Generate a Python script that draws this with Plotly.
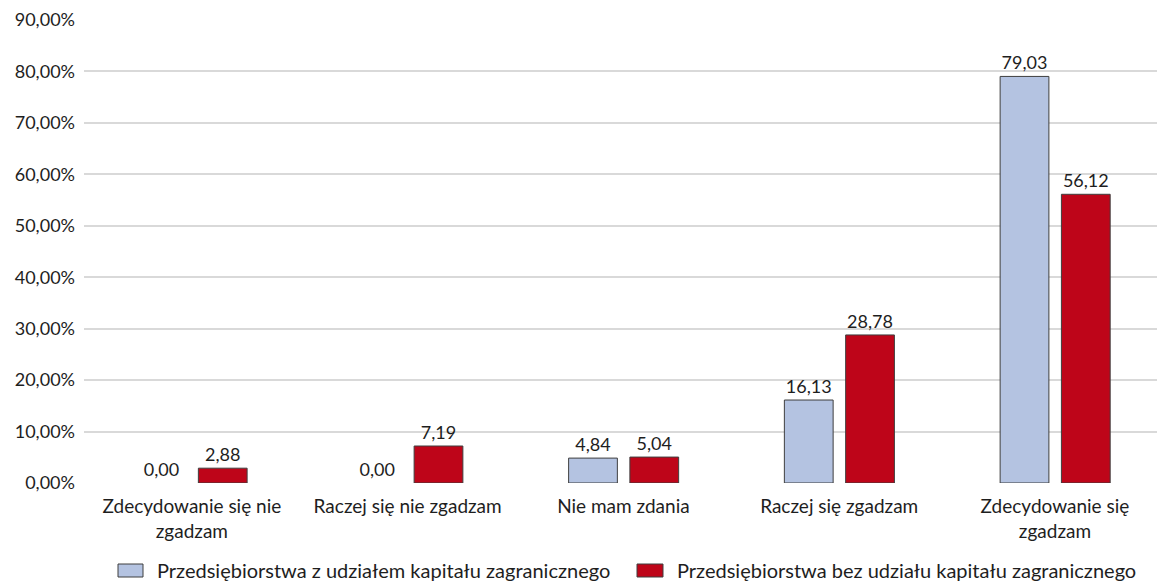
import plotly.graph_objects as go

# Survey answers (x categories) and shares of firms in each group, in percent
categories = [
    "Zdecydowanie się nie<br>zgadzam",
    "Raczej się nie zgadzam",
    "Nie mam zdania",
    "Raczej się zgadzam",
    "Zdecydowanie się<br>zgadzam",
]
series_names = [
    "Przedsiębiorstwa z udziałem kapitału zagranicznego",
    "Przedsiębiorstwa bez udziału kapitału zagranicznego",
]
foreign_capital = [0.00, 0.00, 4.84, 16.13, 79.03]
domestic_capital = [2.88, 7.19, 5.04, 28.78, 56.12]
y_ticks = [0, 10, 20, 30, 40, 50, 60, 70, 80, 90]
y_tick_labels = ["0,00%", "10,00%", "20,00%", "30,00%", "40,00%",
                 "50,00%", "60,00%", "70,00%", "80,00%", "90,00%"]

BLUE = "#B4C3E1"
RED = "#BE0519"
OUTLINE = "#3F3F3F"
TEXT = "#1E1E1E"
FONT = "Lato"

W, H = 1157, 581
PLOT_L, PLOT_R, PLOT_T, PLOT_B = 84, 1157, 20, 483

fig = go.Figure()
for name, vals, color, offset in [
    (series_names[0], foreign_capital, BLUE, -0.254),
    (series_names[1], domestic_capital, RED, 0.030),
]:
    fig.add_trace(go.Bar(
        x=list(range(len(categories))),
        y=vals,
        name=name,
        width=0.226,
        offset=offset,
        # empty bars get no outline
        marker=dict(color=color,
                    line=dict(color=OUTLINE, width=[1 if v > 0 else 0 for v in vals])),
        texttemplate="%{y:.2f}",
        textposition="outside",
        textfont=dict(family=FONT, size=18, color=TEXT),
        cliponaxis=False,
        showlegend=False,
    ))

fig.update_layout(
    width=W,
    height=H,
    margin=dict(l=PLOT_L, r=W - PLOT_R, t=PLOT_T, b=H - PLOT_B),
    paper_bgcolor="white",
    plot_bgcolor="white",
    separators=",.",
    font=dict(family=FONT, size=18, color=TEXT),
    barmode="overlay",
    xaxis=dict(
        range=[-0.5, 4.473],
        tickmode="array",
        tickvals=list(range(len(categories))),
        ticktext=categories,
        showgrid=False,
        zeroline=False,
        showline=False,
        ticks="",
        ticklabelstandoff=10,
        tickfont=dict(family=FONT, size=19, color=TEXT),
    ),
    yaxis=dict(
        range=[0, 90],
        tickmode="array",
        tickvals=y_ticks,
        ticktext=y_tick_labels,
        showgrid=True,
        gridcolor="#D9D9D9",
        gridwidth=1.5,
        zeroline=False,
        showline=False,
        ticks="",
        ticklabelstandoff=8,
        tickfont=dict(family=FONT, size=18, color=TEXT),
    ),
)


# Legend drawn as boxes and labels under the plot
def px_x(px):
    return (px - PLOT_L) / (PLOT_R - PLOT_L)


def px_y(py):
    return (PLOT_B - py) / (PLOT_B - PLOT_T)


legend_items = [
    (118, 143, 155, BLUE, series_names[0]),
    (637, 663, 675, RED, series_names[1]),
]
for bx0, bx1, tx, color, label in legend_items:
    fig.add_shape(
        type="rect", xref="paper", yref="paper",
        x0=px_x(bx0), x1=px_x(bx1), y0=px_y(577), y1=px_y(564),
        fillcolor=color, line=dict(color=OUTLINE, width=1),
    )
    fig.add_annotation(
        xref="paper", yref="paper", x=px_x(tx), y=px_y(570),
        xanchor="left", yanchor="middle", showarrow=False,
        text=label, font=dict(family=FONT, size=20, color=TEXT),
    )

fig.write_html("out.html")
